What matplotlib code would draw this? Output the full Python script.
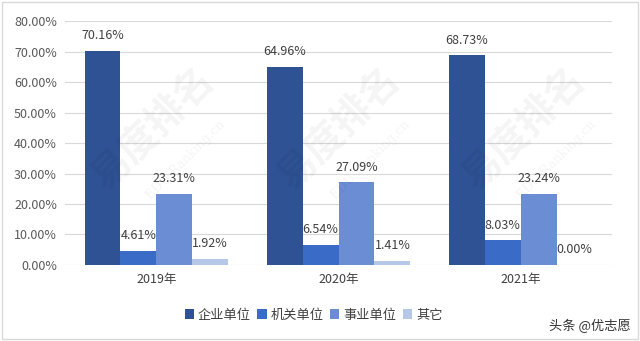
import matplotlib
matplotlib.use("Agg")
import matplotlib.pyplot as plt
from matplotlib.patches import Rectangle
import numpy as np

plt.rcParams['font.family'] = ['Noto Sans CJK SC', 'DejaVu Sans']

categories = ["2019年", "2020年", "2021年"]
series_names = ["企业单位", "机关单位", "事业单位", "其它"]
enterprise = [70.16, 64.96, 68.73]
government = [4.61, 6.54, 8.03]
institution = [23.31, 27.09, 23.24]
other = [1.92, 1.41, 0.00]
y_ticks = [0, 10, 20, 30, 40, 50, 60, 70, 80]

colors = ["#2E5294", "#3A6BC6", "#6A8DD3", "#B6C8E8"]
all_series = [enterprise, government, institution, other]

fig = plt.figure(figsize=(6.4, 3.41), dpi=100)
ax = fig.add_axes([0.102, 0.223, 0.854, 0.715])

# faint watermarks
for (wx, wy) in [(0.24, 0.62), (0.53, 0.62), (0.82, 0.62)]:
    fig.text(wx, wy, "易度排名", fontsize=28, color="#000000", alpha=0.045,
             rotation=45, ha="center", va="center", fontweight="bold")
    fig.text(wx + 0.05, wy - 0.09, "EDU Ranking.cn", fontsize=9, color="#000000", alpha=0.045,
             rotation=45, ha="center", va="center", family="DejaVu Serif")

x = np.arange(len(categories))
bw = 0.197
for i, (vals, c) in enumerate(zip(all_series, colors)):
    pos = x + (i - 1.5) * bw
    ax.bar(pos, vals, width=bw, color=c, label=series_names[i], zorder=3)
    for px, v in zip(pos, vals):
        ax.annotate(f"{v:.2f}%", (px, v), xytext=(0, 11), textcoords="offset points",
                    ha="center", va="center", fontsize=9, color="#404040", zorder=4)

ax.set_xlim(-0.5, 2.5)
ax.set_ylim(0, 80)
ax.set_yticks(y_ticks)
ax.set_yticklabels([f"{t:.2f}%" for t in y_ticks], fontsize=9, color="#595959")
ax.set_xticks(x)
ax.set_xticklabels(categories, fontsize=9, color="#404040")
ax.tick_params(length=0, pad=6)
ax.grid(axis="y", color="#d9d9d9", linewidth=0.8, zorder=0)
for s in ax.spines.values():
    s.set_visible(False)
ax.set_facecolor("none")

fig.legend(loc="center", bbox_to_anchor=(0.49, 0.076), ncol=4, frameon=False,
           fontsize=9.5, handlelength=0.7, handleheight=0.7, handletextpad=0.3,
           columnspacing=0.5, labelcolor="#404040")

fig.text(0.985, 0.045, "头条 @优志愿", fontsize=9.5, color="#333333", ha="right", va="center")

fig.patches.append(Rectangle((0.003, 0.005), 0.994, 0.99, transform=fig.transFigure,
                             fill=False, edgecolor="#d9d9d9", linewidth=1))

fig.savefig("out.png", dpi=100)
